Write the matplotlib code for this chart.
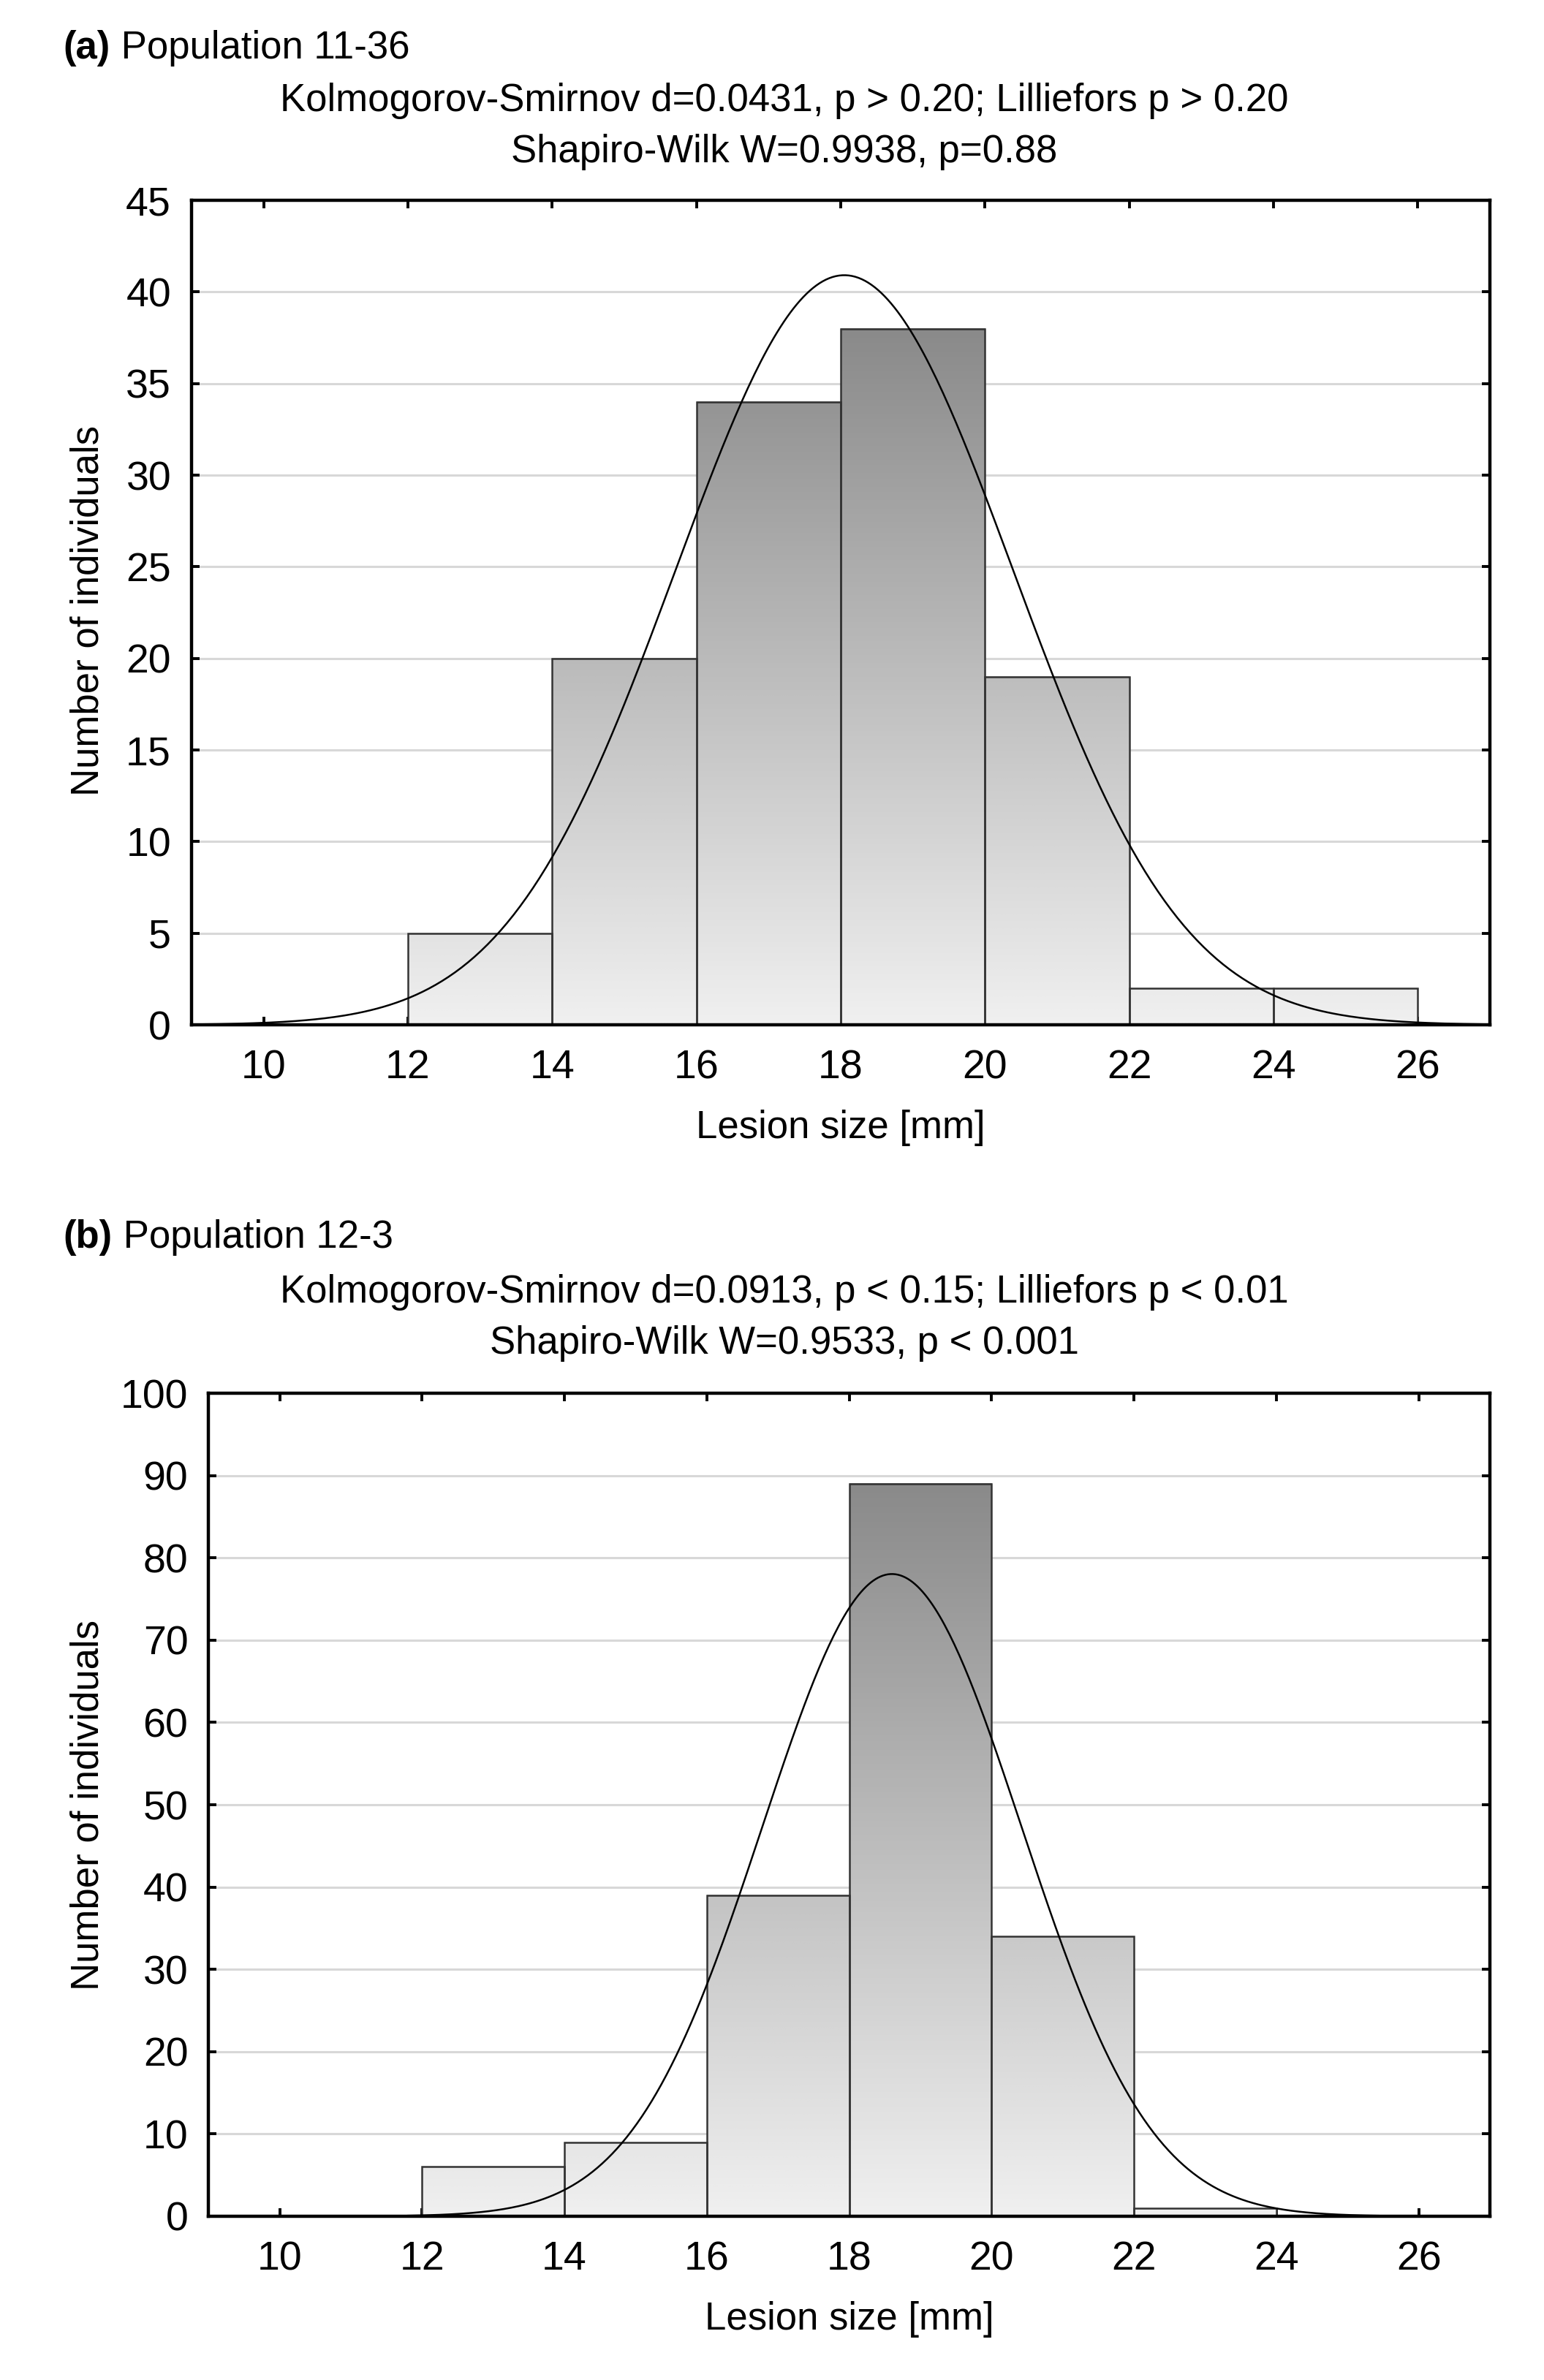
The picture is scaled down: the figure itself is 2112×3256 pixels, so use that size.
import numpy as np
import matplotlib
matplotlib.use("Agg")
import matplotlib.pyplot as plt
from matplotlib.colors import LinearSegmentedColormap, Normalize

plt.rcParams['font.family'] = ['Liberation Sans Narrow', 'Liberation Sans', 'DejaVu Sans']

# histogram bins (lesion size, mm)
bin_edges = [10, 12, 14, 16, 18, 20, 22, 24, 26]

# panel (a) population 11-36
counts_a = [0, 5, 20, 34, 38, 19, 2, 2]
mean_a, sd_a, n_a = 18.05, 2.34, 120
curve_range_a = (9.0, 27.0)
ymax_a, ystep_a = 45, 5
label_a = "(a)"
pop_a = " Population 11-36"
ks_a = "Kolmogorov-Smirnov d=0.0431, p > 0.20; Lilliefors p > 0.20"
sw_a = "Shapiro-Wilk W=0.9938, p=0.88"

# panel (b) population 12-3
counts_b = [0, 6, 9, 39, 89, 34, 1, 0]
mean_b, sd_b, n_b = 18.6, 1.82, 178
curve_range_b = (11.8, 25.6)
ymax_b, ystep_b = 100, 10
label_b = "(b)"
pop_b = " Population 12-3"
ks_b = "Kolmogorov-Smirnov d=0.0913, p < 0.15; Lilliefors p < 0.01"
sw_b = "Shapiro-Wilk W=0.9533, p < 0.001"

xticks = [10, 12, 14, 16, 18, 20, 22, 24, 26]
xlabel = "Lesion size [mm]"
ylabel = "Number of individuals"

gray_cmap = LinearSegmentedColormap.from_list("bars", ["#f0f0f0", "#8a8a8a"])
FS = 20      # tick labels
FS_TXT = 19  # titles and axis labels


def draw_panel(ax, counts, mean, sd, n, crange, ymax, ystep):
    edges = np.array(bin_edges, dtype=float)
    width = edges[1] - edges[0]
    hmax = max(counts)
    norm = Normalize(0, hmax)
    # gradient fill of each bar
    for x0, h in zip(edges[:-1], counts):
        if h <= 0:
            continue
        grad = np.linspace(0, h, 256).reshape(-1, 1)
        ax.imshow(grad, extent=(x0, x0 + width, 0, h), origin='lower',
                  cmap=gray_cmap, norm=norm, aspect='auto', zorder=1,
                  interpolation='bilinear')
    ax.bar(edges[:-1], counts, width=width, align='edge', facecolor='none',
           edgecolor='#333333', linewidth=0.9, zorder=2)
    # fitted normal curve
    xs = np.linspace(crange[0], crange[1], 400)
    ys = n * width / (sd * np.sqrt(2 * np.pi)) * np.exp(-0.5 * ((xs - mean) / sd) ** 2)
    ax.plot(xs, ys, color='black', linewidth=0.9, zorder=3)

    ax.set_xlim(9, 27)
    ax.set_ylim(0, ymax)
    ax.set_xticks(xticks)
    ax.set_yticks(np.arange(0, ymax + 1, ystep))
    ax.yaxis.grid(True, color='#d8d8d8', linewidth=1.1)
    ax.set_axisbelow(True)
    ax.tick_params(direction='in', length=4, width=1.4, top=True, right=True,
                   labelsize=FS, colors='black')
    ax.tick_params(axis='x', pad=12)
    ax.tick_params(axis='y', pad=10)
    for sp in ax.spines.values():
        sp.set_linewidth(1.6)
        sp.set_color('black')
    ax.text(0.5, -0.125, xlabel, transform=ax.transAxes, ha='center',
            va='center', fontsize=FS_TXT)


fig = plt.figure(figsize=(10.56, 16.28), dpi=200)

ax_a = fig.add_axes([0.124, 0.5694, 0.841, 0.3464])
draw_panel(ax_a, counts_a, mean_a, sd_a, n_a, curve_range_a, ymax_a, ystep_a)

ax_b = fig.add_axes([0.135, 0.0688, 0.830, 0.3458])
draw_panel(ax_b, counts_b, mean_b, sd_b, n_b, curve_range_b, ymax_b, ystep_b)

# headers
for lab, pop, ks, sw, ys in [(label_a, pop_a, ks_a, sw_a, (0.9797, 0.9576, 0.9361)),
                             (label_b, pop_b, ks_b, sw_b, (0.4800, 0.4570, 0.4355))]:
    t = fig.text(0.041, ys[0], lab, fontsize=FS_TXT, fontweight='bold', va='center')
    plt.annotate(pop, xy=(1, 0), xycoords=t, va='bottom', fontsize=FS_TXT)
    fig.text(0.508, ys[1], ks, fontsize=FS_TXT, ha='center', va='center')
    fig.text(0.508, ys[2], sw, fontsize=FS_TXT, ha='center', va='center')

fig.text(0.057, 0.7435, ylabel, fontsize=FS_TXT, rotation=90, ha='center', va='center')
fig.text(0.057, 0.2415, ylabel, fontsize=FS_TXT, rotation=90, ha='center', va='center')

fig.savefig("out.png", dpi=200)
